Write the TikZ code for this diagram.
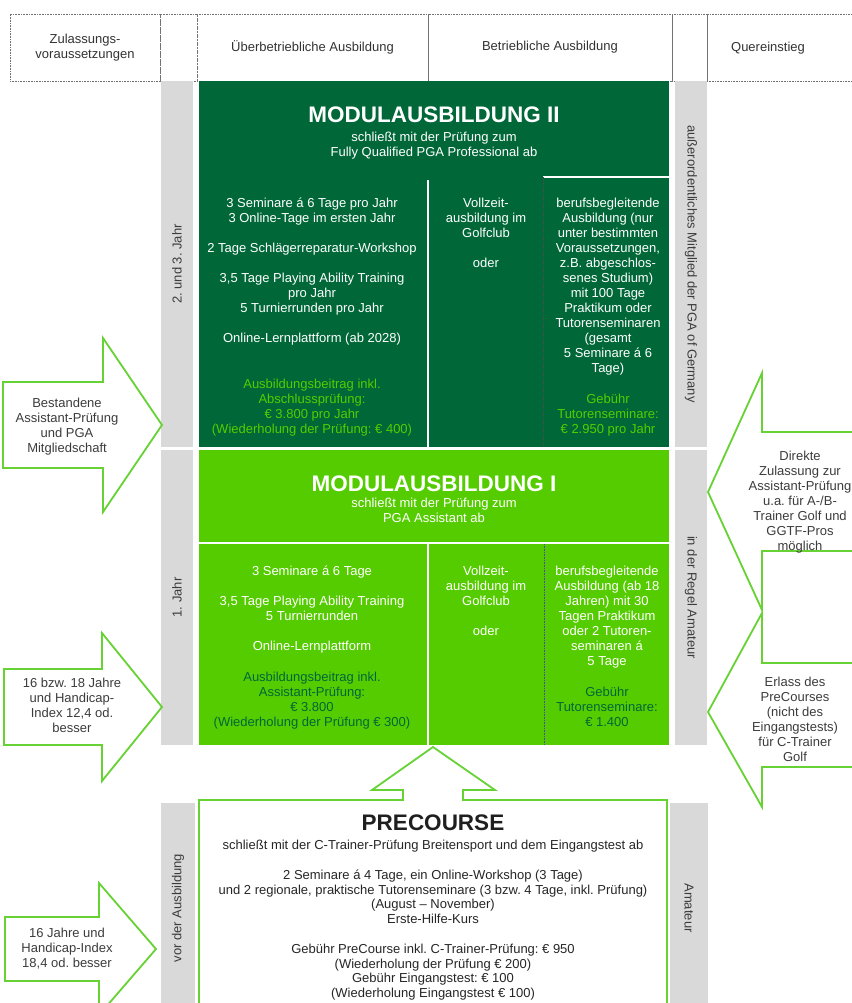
\documentclass[tikz,border=0pt]{standalone}
\usepackage{fontspec}
\setmainfont{Liberation Sans}
\usetikzlibrary{positioning}
\definecolor{pgadark}{RGB}{0,104,56}
\definecolor{pgalight}{RGB}{85,204,0}
\definecolor{pgaarrow}{RGB}{102,210,51}
\definecolor{greyfill}{RGB}{217,217,217}
\definecolor{greytext}{RGB}{60,60,60}
\frenchspacing

\begin{document}
\begin{tikzpicture}[x=1pt,y=-1pt,inner sep=0pt,outer sep=0pt]
		\tikzstyle{headbox}=[draw=black!55,dash pattern=on 0.8pt off 0.8pt,line width=0.6pt,anchor=north west,minimum height=67pt,align=center,text=black!80,font=\fontsize{13}{15}\selectfont]
		\tikzstyle{block}=[anchor=north west,minimum width=470pt]
		\tikzstyle{greybox}=[fill=greyfill,text=greytext,font=\fontsize{13}{15}\selectfont]
		\tikzstyle{titletxt}=[anchor=base,font=\bfseries\fontsize{22.5}{27}\selectfont]
		\tikzstyle{bodytxt}=[anchor=north,align=center,font=\fontsize{13}{15}\selectfont]
		\tikzstyle{arrowtxt}=[anchor=north,align=center,text=greytext,font=\fontsize{13}{15}\selectfont]
		\tikzstyle{bigarrow}=[draw=pgaarrow,line width=1.8pt,line join=miter]
		\tikzstyle{divider}=[white,line width=1.2pt]

		\useasboundingbox (0,0) rectangle (851,1003);
		\fill[white] (0,0) rectangle (851,1003);

		% header row
		\node[headbox,minimum width=150pt] (hzul) at (10,14) {Zulassungs-\\voraussetzungen};
		\node[headbox,minimum width=37pt] (hgap1) at (160,14) {};
		\node[headbox,minimum width=231pt] (hueber) at (197,14) {Überbetriebliche Ausbildung};
		\node[headbox,minimum width=244pt] (hbetr) at (428,14) {Betriebliche Ausbildung};
		\node[headbox,minimum width=35pt] (hgap2) at (672,14) {};
		\node[headbox,minimum width=150pt] (hquer) at (707,14) {};
		\node[bodytxt,anchor=center,text=black!80] (tquer) at (768,48) {Quereinstieg};

		% grey side columns
		\node[greybox,rotate=90,minimum width=366pt,minimum height=32pt] (jahr23) at (177,264) {2. und 3. Jahr};
		\node[greybox,rotate=90,minimum width=295pt,minimum height=32pt] (jahr1) at (177,597.5) {1. Jahr};
		\node[greybox,rotate=90,minimum width=210pt,minimum height=34pt] (vorausb) at (178,908) {vor der Ausbildung};
		\node[greybox,rotate=-90,minimum width=366pt,minimum height=32pt] (mitglied) at (691,264) {außerordentliches Mitglied der PGA of Germany};
		\node[greybox,rotate=-90,minimum width=295pt,minimum height=32pt] (regel) at (691,597.5) {in der Regel Amateur};
		\node[greybox,rotate=-90,minimum width=210pt,minimum height=38pt] (amateur) at (689,908) {Amateur};

		% Modulausbildung II
		\node[block,fill=pgadark,minimum height=366pt] (modII) at (199,81) {};
		\coordinate (IIcolA) at (428,180);
		\coordinate (IIcolAend) at (428,447);
		\coordinate (IIrowB) at (543,177);
		\coordinate (IIrowBend) at (669,177);
		\coordinate (IIcolBend) at (543,447);
		\draw[divider] (IIcolA) -- (IIcolAend);
		\draw[divider] (IIrowB) -- (IIrowBend);
		\draw[black!70,dash pattern=on 0.8pt off 0.8pt,line width=0.6pt] (IIrowB) -- (IIcolBend);

		\node[titletxt,text=white] (titleII) at (434,123) {MODULAUSBILDUNG II};
		\node[bodytxt,text=white,below=9pt of titleII] (subII) {schließt mit der Prüfung zum\\Fully Qualified PGA Professional ab};
		\node[bodytxt,text=white] (leftII) at (312,198) {3 Seminare á 6 Tage pro Jahr\\3 Online-Tage im ersten Jahr\\[15pt]2 Tage Schlägerreparatur-Workshop\\[15pt]3,5 Tage Playing Ability Training\\pro Jahr\\5 Turnierrunden pro Jahr\\[15pt]Online-Lernplattform (ab 2028)};
		\node[bodytxt,text=pgalight] (feeleftII) at (312,379) {Ausbildungsbeitrag inkl.\\Abschlussprüfung:\\€ 3.800 pro Jahr\\(Wiederholung der Prüfung: € 400)};
		\node[bodytxt,text=white] (midII) at (486,198) {Vollzeit-\\ausbildung im\\Golfclub\\[15pt]oder};
		\node[bodytxt,text=white] (rightII) at (608,198) {berufsbegleitende\\Ausbildung (nur\\unter bestimmten\\Voraussetzungen,\\z.B. abgeschlos-\\senes Studium)\\mit 100 Tage\\Praktikum oder\\Tutorenseminaren\\(gesamt\\5 Seminare á 6\\Tage)};
		\node[bodytxt,text=pgalight] (feerightII) at (608,394) {Gebühr\\Tutorenseminare:\\€ 2.950 pro Jahr};

		% Modulausbildung I
		\node[block,fill=pgalight,minimum height=295pt] (modI) at (199,450) {};
		\coordinate (IrowL) at (199,543);
		\coordinate (IrowR) at (669,543);
		\coordinate (IcolA) at (428,543);
		\coordinate (IcolAend) at (428,745);
		\coordinate (IcolB) at (544,544);
		\coordinate (IcolBend) at (544,745);
		\draw[divider] (IrowL) -- (IrowR);
		\draw[divider] (IcolA) -- (IcolAend);
		\draw[blue!40!gray,dash pattern=on 0.8pt off 0.8pt,line width=0.6pt] (IcolB) -- (IcolBend);

		\node[titletxt,text=white] (titleI) at (434,491) {MODULAUSBILDUNG I};
		\node[bodytxt,text=white,below=7pt of titleI] (subI) {schließt mit der Prüfung zum\\PGA Assistant ab};
		\node[bodytxt,text=white] (leftI) at (312,566) {3 Seminare á 6 Tage\\[15pt]3,5 Tage Playing Ability Training\\5 Turnierrunden\\[15pt]Online-Lernplattform};
		\node[bodytxt,text=pgadark] (feeleftI) at (312,672) {Ausbildungsbeitrag inkl.\\Assistant-Prüfung:\\€ 3.800\\(Wiederholung der Prüfung € 300)};
		\node[bodytxt,text=white] (midI) at (486,566) {Vollzeit-\\ausbildung im\\Golfclub\\[15pt]oder};
		\node[bodytxt,text=white] (rightI) at (607,566) {berufsbegleitende\\Ausbildung (ab 18\\Jahren) mit 30\\Tagen Praktikum\\oder 2 Tutoren-\\seminaren á\\5 Tage};
		\node[bodytxt,text=pgadark] (feerightI) at (607,687) {Gebühr\\Tutorenseminare:\\€ 1.400};

		% PreCourse with arrow up
		\coordinate (pretip) at (433,747);
		\draw[bigarrow] (199,1012) -- (199,800) -- (403,800) -- (403,790) -- (372,790) -- (pretip)
			-- (495,790) -- (463,790) -- (463,800) -- (667,800) -- (667,1012);
		\node[titletxt,text=black!88] (titlePre) at (433,830) {PRECOURSE};
		\node[bodytxt,text=black!85,font=\fontsize{13}{14.8}\selectfont,below=10pt of titlePre] (subPre) {schließt mit der C-Trainer-Prüfung Breitensport und dem Eingangstest ab\\[14.8pt]2 Seminare á 4 Tage, ein Online-Workshop (3 Tage)\\und 2 regionale, praktische Tutorenseminare (3 bzw. 4 Tage, inkl. Prüfung)\\(August – November)\\Erste-Hilfe-Kurs\\[14.8pt]Gebühr PreCourse inkl. C-Trainer-Prüfung: € 950\\(Wiederholung der Prüfung € 200)\\Gebühr Eingangstest: € 100\\(Wiederholung Eingangstest € 100)};

		% Zulassungsvoraussetzungen (arrows from left)
		\draw[bigarrow] (3,382) -- (103,382) -- (103,338) -- (162,425) -- (103,512) -- (103,468) -- (3,468) -- cycle;
		\node[arrowtxt] (zulII) at (67,398) {Bestandene\\Assistant-Prüfung\\und PGA\\Mitgliedschaft};
		\draw[bigarrow] (4,669) -- (102,669) -- (102,633) -- (162,707) -- (102,781) -- (102,745) -- (4,745) -- cycle;
		\node[arrowtxt] (zulI) at (72,678) {16 bzw. 18 Jahre\\und Handicap-\\Index 12,4 od.\\besser};
		\draw[bigarrow] (5,917) -- (99,917) -- (99,883) -- (156,949) -- (99,1015) -- (99,981) -- (5,981) -- cycle;
		\node[arrowtxt] (zulPre) at (67,928) {16 Jahre und\\Handicap-Index\\18,4 od. besser};

		% Quereinstieg (arrows from right)
		\draw[bigarrow] (860,432) -- (762,432) -- (762,373) -- (708,492) -- (762,610) -- (762,551) -- (860,551);
		\node[arrowtxt] (querI) at (800,451) {Direkte\\Zulassung zur\\Assistant-Prüfung\\u.a. für A-/B-\\Trainer Golf und\\GGTF-Pros\\möglich};
		\draw[bigarrow] (860,663) -- (762,663) -- (762,613) -- (708,712) -- (762,807) -- (762,767) -- (860,767);
		\node[arrowtxt] (querPre) at (795,677) {Erlass des\\PreCourses\\(nicht des\\Eingangstests)\\für C-Trainer\\Golf};
	\end{tikzpicture}
\end{document}
